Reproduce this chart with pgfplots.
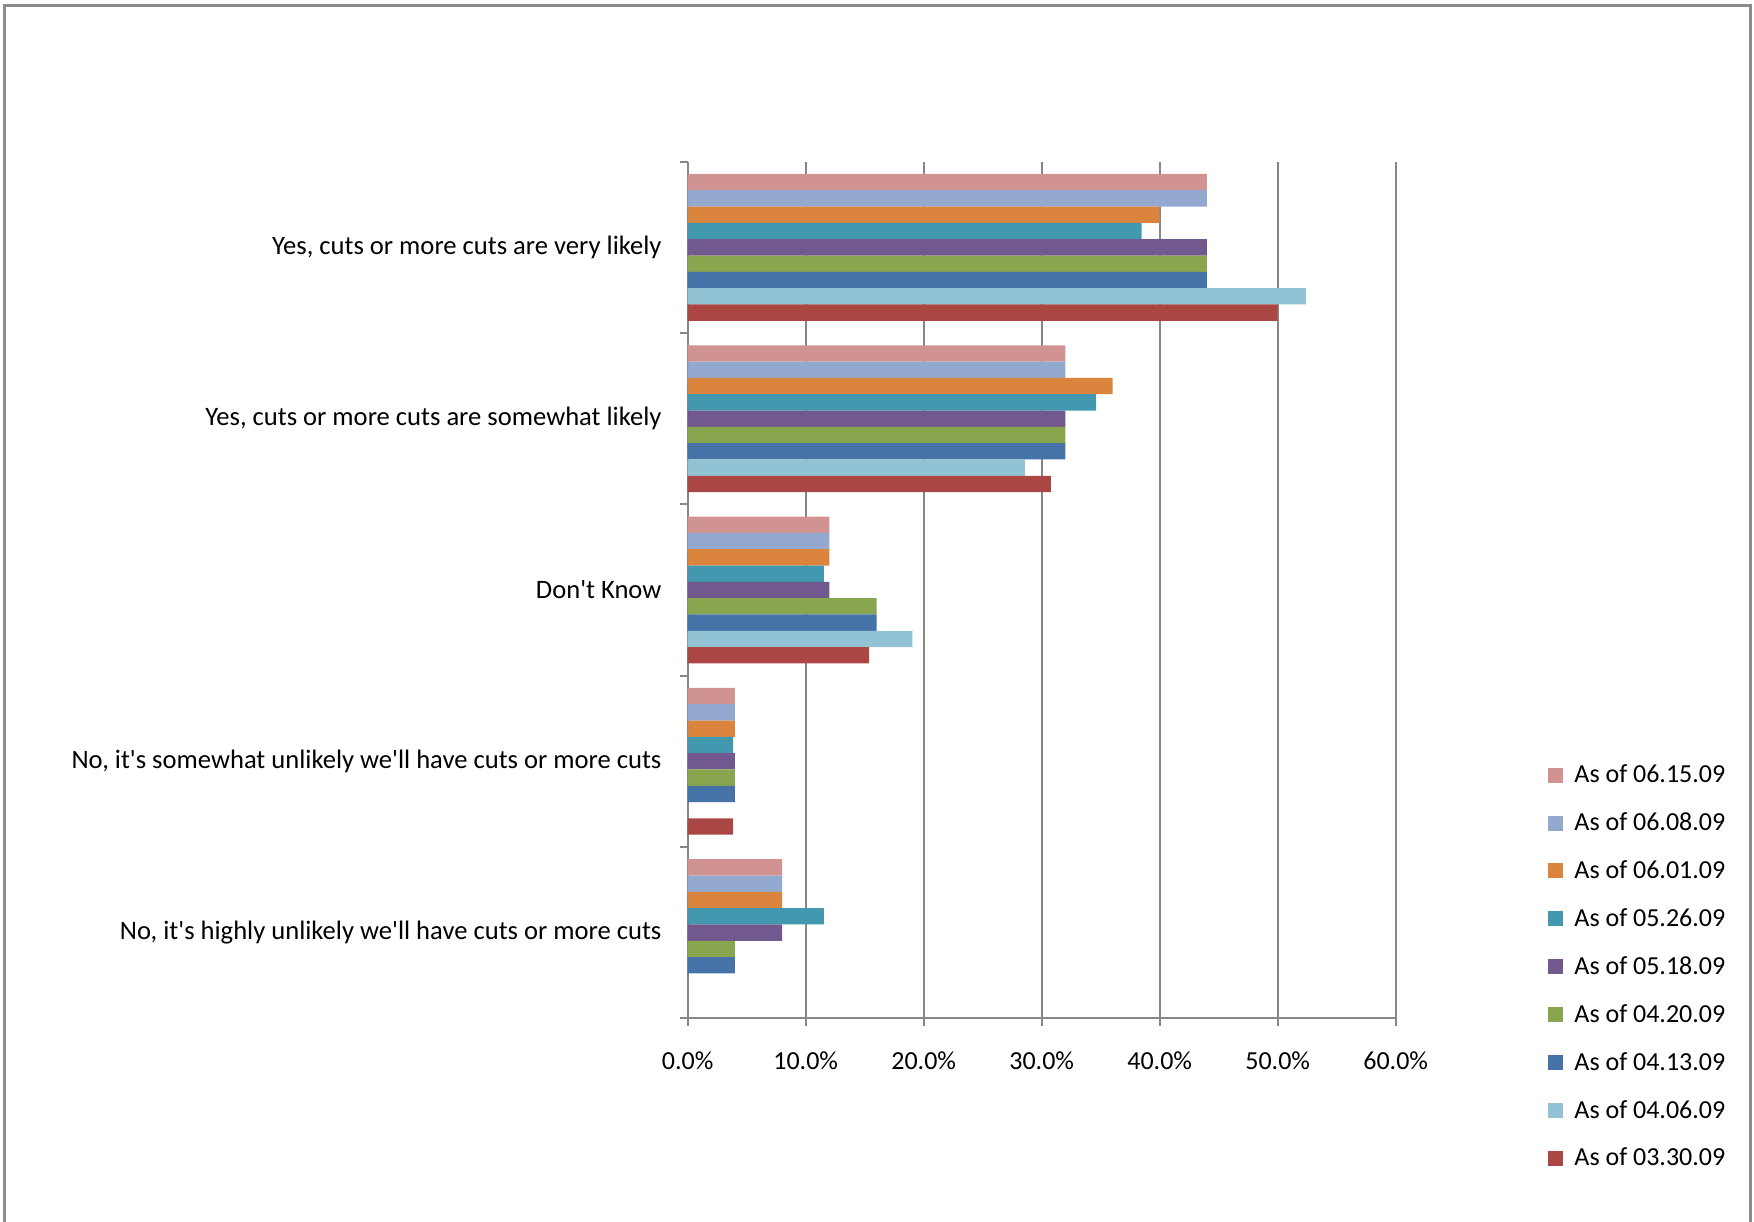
\documentclass[border=0pt]{standalone}
\usepackage{pgfplots}
\pgfplotsset{compat=1.18}
\usepackage{fontspec}
\setmainfont{Carlito}

\definecolor{framegray}{HTML}{8C8C8C}
\definecolor{axisgray}{HTML}{868686}
\definecolor{cA}{HTML}{D19392}
\definecolor{cB}{HTML}{93A9CF}
\definecolor{cC}{HTML}{DB843D}
\definecolor{cD}{HTML}{4198AF}
\definecolor{cE}{HTML}{71588F}
\definecolor{cF}{HTML}{89A54E}
\definecolor{cG}{HTML}{4572A7}
\definecolor{cH}{HTML}{92C3D4}
\definecolor{cI}{HTML}{AA4643}

\begin{document}
\begin{tikzpicture}
\useasboundingbox (0,0) rectangle (877pt,610.5pt);
\draw[line width=1.5pt, framegray] (2pt,-5pt) -- (2pt,607.5pt) -- (875pt,607.5pt) -- (875pt,-5pt);
\begin{axis}[
  at={(343.85pt,101.35pt)}, anchor=south west,
  scale only axis, width=354pt, height=428.3pt,
  xbar, bar width=0.095238,
  xmin=0, xmax=60, ymin=-0.5, ymax=4.5,
  axis lines*=left,
  axis line style={draw=axisgray, line width=0.9pt},
  tick align=outside,
  major tick length=4pt, minor tick length=4pt,
  tick style={draw=axisgray, line width=0.9pt},
  xtick={0,10,...,60},
  xmajorgrids,
  major x grid style={draw=axisgray, line width=0.9pt},
  /pgf/number format/assume math mode=true,
  xticklabel={\pgfmathprintnumber[fixed,fixed zerofill,precision=1]{\tick}\%},
  ytick={0,1,2,3,4},
  yticklabels={{No, it\textquotesingle s highly unlikely we\textquotesingle ll have cuts or more cuts},
               {No, it\textquotesingle s somewhat unlikely we\textquotesingle ll have cuts or more cuts},
               {Don\textquotesingle t Know},
               {Yes, cuts or more cuts are somewhat likely},
               {Yes, cuts or more cuts are very likely}},
  minor ytick={-0.5,0.5,1.5,2.5,3.5,4.5},
  every major y tick/.style={draw=none},
  tick label style={font=\fontsize{13}{15.6}\selectfont, text=black},
  xticklabel style={yshift=-9pt},
  yticklabel style={xshift=-5.6pt, font=\fontsize{13.3}{16}\selectfont},
  legend style={draw=none, fill=none, at={(1.2148,0.0601)}, anchor=west,
    inner sep=0pt, font=\fontsize{13}{15.6}\selectfont,
    nodes={inner sep=1.75pt}, row sep=10.05pt},
  legend cell align=left,
  legend image code/.code={\fill[#1] (0pt,-3.75pt) rectangle (7.5pt,3.75pt); \path (11.4pt,0pt);},
]
\addplot[fill=cA, draw=none, bar shift=0.380952] coordinates {(44,4) (32,3) (12,2) (4,1) (8,0)};
\addplot[fill=cB, draw=none, bar shift=0.285714] coordinates {(44,4) (32,3) (12,2) (4,1) (8,0)};
\addplot[fill=cC, draw=none, bar shift=0.190476] coordinates {(40,4) (36,3) (12,2) (4,1) (8,0)};
\addplot[fill=cD, draw=none, bar shift=0.095238] coordinates {(38.46,4) (34.62,3) (11.54,2) (3.85,1) (11.54,0)};
\addplot[fill=cE, draw=none, bar shift=0] coordinates {(44,4) (32,3) (12,2) (4,1) (8,0)};
\addplot[fill=cF, draw=none, bar shift=-0.095238] coordinates {(44,4) (32,3) (16,2) (4,1) (4,0)};
\addplot[fill=cG, draw=none, bar shift=-0.190476] coordinates {(44,4) (32,3) (16,2) (4,1) (4,0)};
\addplot[fill=cH, draw=none, bar shift=-0.285714] coordinates {(52.38,4) (28.57,3) (19.05,2)};
\addplot[fill=cI, draw=none, bar shift=-0.380952] coordinates {(50,4) (30.77,3) (15.38,2) (3.85,1)};
\legend{As of 06.15.09, As of 06.08.09, As of 06.01.09, As of 05.26.09, As of 05.18.09,
        As of 04.20.09, As of 04.13.09, As of 04.06.09, As of 03.30.09}
\end{axis}
\end{tikzpicture}
\end{document}
